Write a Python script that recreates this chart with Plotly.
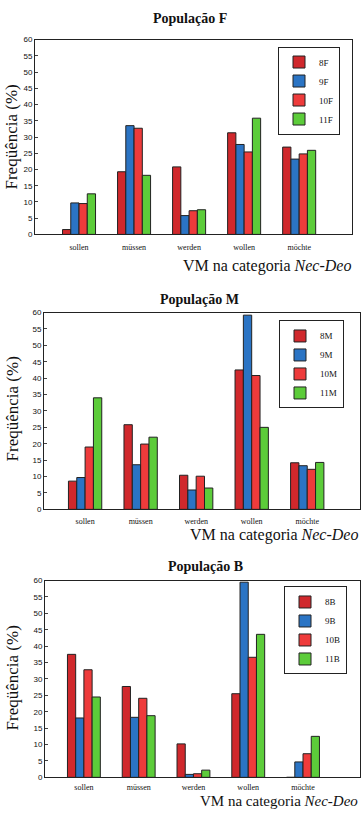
import plotly.graph_objects as go

categories = ["sollen", "müssen", "werden", "wollen", "möchte"]

# População F
f_names = ["8F", "9F", "10F", "11F"]
f_8 = [1.5, 19.3, 20.8, 31.3, 26.9]
f_9 = [9.7, 33.5, 5.8, 27.7, 23.2]
f_10 = [9.5, 32.7, 7.3, 25.4, 24.8]
f_11 = [12.5, 18.2, 7.6, 35.8, 25.9]

# População M
m_names = ["8M", "9M", "10M", "11M"]
m_8 = [8.6, 25.8, 10.4, 42.5, 14.2]
m_9 = [9.7, 13.6, 5.9, 59.2, 13.3]
m_10 = [19.0, 19.9, 10.1, 40.8, 12.2]
m_11 = [34.0, 22.0, 6.5, 25.0, 14.3]

# População B
b_names = ["8B", "9B", "10B", "11B"]
b_8 = [37.5, 27.7, 10.2, 25.5, 0]
b_9 = [18.1, 18.3, 0.9, 59.5, 4.7]
b_10 = [32.8, 24.1, 1.1, 36.6, 7.2]
b_11 = [24.5, 18.8, 2.2, 43.6, 12.5]

y_ticks = list(range(0, 61, 5))
colors = ["#d0282c", "#2b74c4", "#ee3b3b", "#5ccc3a"]

W, H = 362, 813
SERIF = "Liberation Serif, Times New Roman, serif"
SANS = "Liberation Sans, Arial, sans-serif"

panels = [
    dict(title="População F", names=f_names, series=[f_8, f_9, f_10, f_11],
         x0=35, x1=352, ytop=36, ybot=233, xr=[-0.8, 4.96],
         title_x=190, title_y=15, lab_y=135, xt_x=353, xt_y=265, xt_size=16,
         standoff=5, leg=(340, 43), suffix="", legend="legend"),
    dict(title="População M", names=m_names, series=[m_8, m_9, m_10, m_11],
         x0=44, x1=360, ytop=312, ybot=511, xr=[-0.74, 4.95],
         title_x=199, title_y=299, lab_y=410, xt_x=360, xt_y=537, xt_size=16,
         standoff=4, leg=(344, 320), suffix="2", legend="legend2"),
    dict(title="População B", names=b_names, series=[b_8, b_9, b_10, b_11],
         x0=45, x1=360, ytop=583, ybot=782, xr=[-0.71, 5.04],
         title_x=205, title_y=569, lab_y=682, xt_x=360, xt_y=805.5, xt_size=15,
         standoff=2, leg=(347, 589), suffix="3", legend="legend3"),
]

fig = go.Figure()
annotations = []
layout = {}
for p in panels:
    s = p["suffix"]
    for name, vals, col in zip(p["names"], p["series"], colors):
        fig.add_trace(go.Bar(
            x=categories, y=vals, name=name,
            marker=dict(color=col, line=dict(color="#222222", width=1)),
            xaxis="x" + s, yaxis="y" + s, legend=p["legend"],
        ))
    layout["xaxis" + s] = dict(
        domain=[p["x0"] / W, p["x1"] / W], anchor="y" + s,
        type="category", range=p["xr"], showline=True, linecolor="#222",
        mirror=True, ticks="", ticklabelstandoff=p["standoff"],
        tickfont=dict(family=SERIF, size=8, color="#111"),
        showgrid=False, zeroline=False, fixedrange=True,
    )
    layout["yaxis" + s] = dict(
        domain=[1 - p["ybot"] / H, 1 - p["ytop"] / H], anchor="x" + s,
        range=[0, 60], tickvals=y_ticks, showline=True, linecolor="#222",
        mirror=True, ticks="inside", ticklen=3, tickcolor="#444",
        tickfont=dict(family=SANS, size=8, color="#111"),
        showgrid=False, zeroline=False, fixedrange=True,
    )
    layout[p["legend"]] = dict(
        x=p["leg"][0] / W, y=1 - p["leg"][1] / H, xanchor="right", yanchor="top",
        xref="paper", yref="paper",
        bordercolor="#222", borderwidth=1, bgcolor="white",
        font=dict(family=SERIF, size=9, color="#111"),
        itemwidth=30, tracegroupgap=0,
    )
    annotations.append(dict(
        text="<b>" + p["title"] + "</b>", x=p["title_x"] / W,
        y=1 - p["title_y"] / H, xref="paper", yref="paper", showarrow=False,
        font=dict(family=SERIF, size=14, color="#111"), xanchor="center", yanchor="middle",
    ))
    annotations.append(dict(
        text="Freqüência (%)", x=12 / W, y=1 - p["lab_y"] / H, xref="paper", yref="paper",
        showarrow=False, textangle=-90,
        font=dict(family=SERIF, size=17, color="#111"), xanchor="center", yanchor="middle",
    ))
    annotations.append(dict(
        text="VM na categoria <i>Nec-Deo</i>", x=p["xt_x"] / W, y=1 - p["xt_y"] / H,
        xref="paper", yref="paper", showarrow=False,
        font=dict(family=SERIF, size=p["xt_size"], color="#111"),
        xanchor="right", yanchor="middle",
    ))

fig.update_layout(
    width=W, height=H, margin=dict(l=0, r=0, t=0, b=0),
    paper_bgcolor="white", plot_bgcolor="white",
    barmode="group", bargap=0.4, bargroupgap=0.0,
    annotations=annotations, **layout,
)

fig.write_html("out.html", config={"displayModeBar": False},
               post_script="document.body.style.margin='0';document.body.style.padding='0';")
